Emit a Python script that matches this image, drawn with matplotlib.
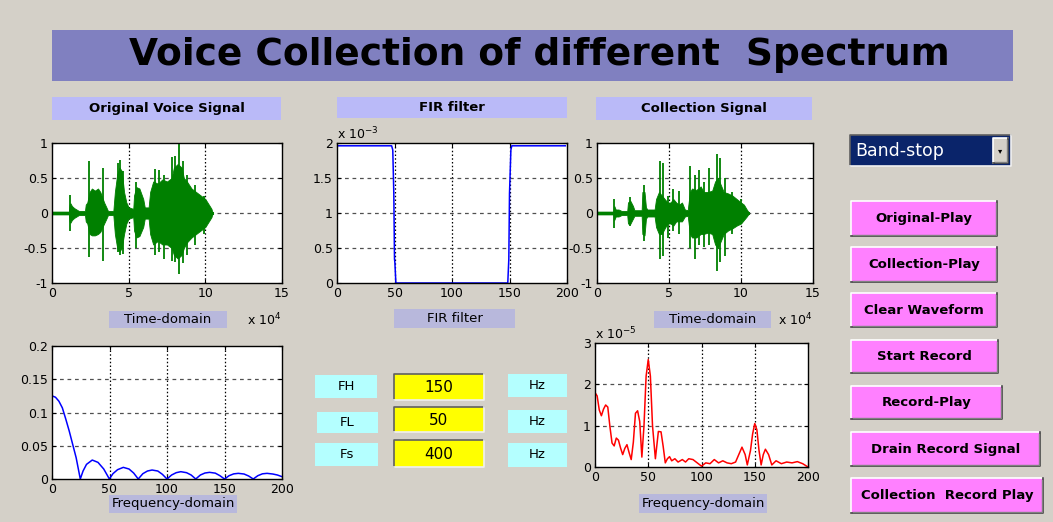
import numpy as np
import matplotlib.pyplot as plt
from matplotlib.patches import Rectangle

W, H = 1053, 522
BG = '#d4d0c8'

# ---- data ----
# time-domain envelopes (x in units of 1e4 samples)
orig_env_x = [0, 1.1, 1.15, 1.2, 1.3, 1.45, 1.6, 1.75, 1.8, 2.15,
              2.2, 2.3, 2.45, 2.6, 2.8, 3.0, 3.15, 3.4, 3.55, 3.65,
              4.0, 4.1, 4.25, 4.4, 4.55, 4.7, 4.85, 5.0, 5.3, 5.35,
              5.5, 5.7, 5.95, 6.05, 6.3, 6.4, 6.6, 6.9, 7.2, 7.5,
              7.8, 7.95, 8.2, 8.45, 8.6, 8.8, 9.1, 9.4, 9.7, 10.0,
              10.2, 10.4, 10.45]
orig_env_top = [0.02, 0.02, 0.12, 0.14, 0.1, 0.07, 0.05, 0.03, 0.03, 0.03,
                0.12, 0.15, 0.3, 0.35, 0.32, 0.35, 0.3, 0.15, 0.08, 0.03,
                0.03, 0.3, 0.55, 0.65, 0.6, 0.3, 0.15, 0.08, 0.06, 0.25,
                0.37, 0.35, 0.2, 0.08, 0.08, 0.3, 0.45, 0.42, 0.48, 0.45,
                0.5, 0.65, 0.7, 0.65, 0.5, 0.45, 0.35, 0.3, 0.25, 0.2,
                0.13, 0.06, 0.02]
orig_env_bot = [-0.02, -0.02, -0.12, -0.14, -0.1, -0.07, -0.05, -0.03, -0.03, -0.03,
                -0.12, -0.15, -0.3, -0.32, -0.32, -0.3, -0.27, -0.15, -0.08, -0.03,
                -0.03, -0.3, -0.5, -0.55, -0.5, -0.3, -0.15, -0.08, -0.06, -0.25,
                -0.35, -0.33, -0.2, -0.08, -0.08, -0.3, -0.45, -0.4, -0.45, -0.45,
                -0.5, -0.6, -0.65, -0.6, -0.5, -0.42, -0.35, -0.3, -0.25, -0.2,
                -0.13, -0.06, -0.02]
orig_spike_x = [1.2, 2.39, 3.3, 4.3, 4.46, 4.6, 5.5, 6.7, 7.0, 7.3, 7.8, 8.05, 8.3, 8.55, 8.8, 9.3, 9.9]
orig_spike_top = [0.26, 0.75, 0.65, 0.72, 0.76, 0.6, 0.45, 0.63, 0.62, 0.55, 0.8, 0.81, 1.0, 0.75, 0.55, 0.4, 0.25]
orig_spike_bot = [-0.25, -0.63, -0.68, -0.55, -0.6, -0.58, -0.5, -0.6, -0.55, -0.65, -0.68, -0.7, -0.87, -0.72, -0.6, -0.45, -0.3]

coll_env_x = [0, 1.15, 1.2, 1.3, 1.5, 1.7, 2.1, 2.15, 2.3, 2.5,
              2.6, 3.1, 3.15, 3.3, 3.4, 3.5, 4.0, 4.1, 4.3, 4.5,
              4.7, 4.9, 5.1, 5.3, 5.5, 5.7, 5.9, 6.1, 6.3, 6.45,
              6.6, 6.9, 7.2, 7.4, 7.7, 8.0, 8.2, 8.4, 8.6, 8.8,
              9.1, 9.4, 9.7, 10.0, 10.2, 10.4, 10.5]
coll_env_top = [0.02, 0.02, 0.1, 0.05, 0.05, 0.03, 0.03, 0.15, 0.18, 0.1,
                0.04, 0.04, 0.3, 0.3, 0.08, 0.05, 0.05, 0.2, 0.3, 0.25,
                0.2, 0.15, 0.15, 0.2, 0.15, 0.12, 0.15, 0.05, 0.04, 0.3,
                0.35, 0.33, 0.38, 0.3, 0.3, 0.32, 0.45, 0.5, 0.4, 0.3,
                0.28, 0.25, 0.2, 0.15, 0.12, 0.05, 0.02]
coll_env_bot = [-0.02, -0.02, -0.1, -0.05, -0.05, -0.03, -0.03, -0.15, -0.16, -0.08,
                -0.04, -0.04, -0.3, -0.32, -0.08, -0.05, -0.05, -0.2, -0.3, -0.3,
                -0.22, -0.15, -0.15, -0.18, -0.12, -0.12, -0.12, -0.05, -0.04, -0.3,
                -0.35, -0.35, -0.3, -0.3, -0.28, -0.3, -0.45, -0.5, -0.4, -0.3,
                -0.25, -0.22, -0.18, -0.15, -0.1, -0.05, -0.02]
coll_spike_x = [1.2, 2.3, 3.25, 4.35, 4.6, 4.95, 5.3, 5.7, 6.45, 6.8, 7.1, 7.4, 7.8, 8.35, 8.55, 8.9, 9.4, 10.0]
coll_spike_top = [0.2, 0.23, 0.4, 0.75, 0.71, 0.25, 0.35, 0.32, 0.67, 0.55, 0.62, 0.45, 0.64, 0.85, 0.78, 0.5, 0.3, 0.2]
coll_spike_bot = [-0.21, -0.18, -0.4, -0.66, -0.61, -0.35, -0.25, -0.3, -0.5, -0.66, -0.45, -0.48, -0.45, -0.83, -0.7, -0.61, -0.3, -0.15]

# FIR filter (x 1e-3)
fir_f = [0, 47.5, 48.5, 49.4, 50.0, 50.3, 51.2, 148.5, 149.4, 150.0, 151.2, 152, 198.5]
fir_h = [1.96, 1.96, 1.9, 1.28, 0.34, 0.3, 0, 0, 0.34, 1.28, 1.9, 1.96, 1.96]

# original spectrum
orig_freq = [0, 3, 6, 9, 12, 15, 18, 21, 24.6,
             27, 30, 35, 40, 45, 49.9,
             53, 57, 62, 67, 71, 75,
             79, 83, 87, 92, 96, 100,
             104, 108, 112, 117, 121, 125,
             129, 133, 137, 142, 146, 150,
             154, 158, 162, 167, 171, 175,
             179, 183, 187, 192, 196, 200]
orig_mag = [0.125, 0.123, 0.117, 0.107, 0.09, 0.072, 0.052, 0.032, 0,
            0.012, 0.022, 0.0285, 0.025, 0.015, 0,
            0.008, 0.014, 0.0175, 0.015, 0.009, 0,
            0.008, 0.012, 0.0135, 0.012, 0.007, 0,
            0.006, 0.0095, 0.011, 0.0095, 0.006, 0,
            0.006, 0.009, 0.010, 0.0088, 0.005, 0,
            0.005, 0.0077, 0.0085, 0.0075, 0.0045, 0,
            0.005, 0.0078, 0.0085, 0.0075, 0.006, 0.0035]

# collected spectrum (x 1e-5)
coll_freq = [0, 2, 4, 6, 8, 10, 12, 14, 16, 18, 20, 22, 24, 26, 28, 30, 32, 34, 36, 38,
             40, 42, 44, 46, 48, 50, 52, 54, 56.7, 59.5, 62, 64, 66, 68, 70, 72, 75, 78,
             82, 85, 88, 92, 95, 100, 104, 108, 112, 116, 120, 124, 128, 132, 135, 138,
             141, 143, 146, 148, 150, 152, 154, 156, 158, 160, 163, 166, 170, 175, 180,
             185, 190, 195, 200]
coll_mag = [1.8, 1.72, 1.38, 1.24, 1.4, 1.5, 1.45, 0.98, 0.58, 0.51, 0.7, 0.65, 0.46, 0.3,
            0.45, 0.54, 0.35, 0.18, 0.6, 1.3, 1.36, 1.1, 0.24, 1.0, 2.2, 2.6, 2.2, 1.0, 0.2,
            0.86, 0.85, 0.5, 0.1, 0.2, 0.25, 0.15, 0.2, 0.12, 0.18, 0.12, 0.2, 0.18, 0.12,
            0.02, 0.1, 0.08, 0.18, 0.1, 0.15, 0.1, 0.08, 0.12, 0.3, 0.48, 0.3, 0.05, 0.4,
            0.8, 1.05, 0.9, 0.4, 0.05, 0.3, 0.43, 0.3, 0.05, 0.15, 0.08, 0.12, 0.1, 0.13,
            0.08, 0.0]

buttons = ['Original-Play', 'Collection-Play', 'Clear Waveform', 'Start Record',
           'Record-Play', 'Drain Record Signal', 'Collection  Record Play']
param_names = ['FH', 'FL', 'Fs']
param_values = ['150', '50', '400']

fig = plt.figure(figsize=(W / 100, H / 100), dpi=100, facecolor=BG)

# overlay in pixel coordinates for the GUI widgets
ov = fig.add_axes([0, 0, 1, 1], zorder=-1)
ov.set_xlim(0, W)
ov.set_ylim(H, 0)
ov.axis('off')

SANS = 'DejaVu Sans'


def box(x0, y0, x1, y1, color, style=None):
    ov.add_patch(Rectangle((x0, y0), x1 - x0, y1 - y0, facecolor=color, edgecolor='none'))
    if style == 'raised':
        ov.plot([x0, x0, x1], [y1, y0, y0], color='white', lw=1.2)
        ov.plot([x0, x1, x1], [y1, y1, y0], color='#404040', lw=1.2)
        ov.plot([x0 + 1.5, x1 - 1.5, x1 - 1.5], [y1 - 1.5, y1 - 1.5, y0 + 1.5], color='#808080', lw=1)
    elif style == 'sunken':
        ov.plot([x0, x0, x1], [y1, y0, y0], color='#606060', lw=1.2)
        ov.plot([x0, x1, x1], [y1, y1, y0], color='#f0f0f0', lw=1.2)


def label(x0, y0, x1, y1, color, text, size=9.5, weight='normal'):
    box(x0, y0, x1, y1, color)
    ov.text((x0 + x1) / 2, (y0 + y1) / 2, text, ha='center', va='center',
            fontsize=size, fontweight=weight, family=SANS)


# title banner
box(52, 30, 1013, 81, '#8080c0')
ov.text(539, 55, 'Voice Collection of different  Spectrum', ha='center', va='center',
        fontsize=27, fontweight='bold', family=SANS)

# panel headers
label(52, 97, 281, 120, '#babaf8', 'Original Voice Signal', weight='bold')
label(337, 97, 567, 118, '#babaf8', 'FIR filter', weight='bold')
label(596, 97, 812, 120, '#babaf8', 'Collection Signal', weight='bold')

# axis captions
label(109, 311, 227, 328, '#b8b8dc', 'Time-domain')
label(394, 309, 515, 328, '#b8b8dc', 'FIR filter')
label(654, 311, 771, 328, '#b8b8dc', 'Time-domain')
label(109, 495, 237, 513, '#b8b8dc', 'Frequency-domain')
label(639, 494, 767, 513, '#b8b8dc', 'Frequency-domain')

# parameter inputs
rows = [(375, 398, 374, 400, 374, 397, 315, 377),
        (412, 433, 407, 432, 410, 433, 317, 378),
        (443, 466, 440, 467, 443, 467, 315, 378)]
for (ly0, ly1, vy0, vy1, hy0, hy1, lx0, lx1), name, val in zip(rows, param_names, param_values):
    label(lx0, ly0, lx1, ly1, '#b4ffff', name)
    box(394, vy0, 484, vy1, '#ffff00', 'sunken')
    ov.text(439, (vy0 + vy1) / 2 + 1, val, ha='center', va='center', fontsize=11, family=SANS)
    label(508, hy0, 567, hy1, '#b4ffff', 'Hz')

# popup menu
box(850, 135, 1011, 166, '#0a246a', 'sunken')
ov.text(855, 151, 'Band-stop', ha='left', va='center', fontsize=12.5, color='white', family=SANS)
box(993, 138, 1008, 163, BG, 'raised')
ov.text(1000.5, 151, '\u25be', ha='center', va='center', fontsize=6, color='black')

# buttons
btn_boxes = [(851, 201, 997, 236), (851, 247, 997, 282), (851, 293, 997, 327),
             (851, 340, 998, 373), (851, 386, 1002, 419), (851, 432, 1040, 466),
             (851, 478, 1043, 513)]
for (x0, y0, x1, y1), name in zip(btn_boxes, buttons):
    box(x0, y0, x1, y1, '#ff80ff', 'raised')
    ov.text((x0 + x1) / 2, (y0 + y1) / 2, name, ha='center', va='center',
            fontsize=9.5, fontweight='bold', family=SANS)


def make_axes(x0, y0, x1, y1):
    ax = fig.add_axes([x0 / W, 1 - y1 / H, (x1 - x0) / W, (y1 - y0) / H])
    ax.set_facecolor('white')
    ax.tick_params(direction='in', length=3, top=True, right=True, labelsize=9,
                   colors='black', pad=3)
    for s in ax.spines.values():
        s.set_color('black')
        s.set_linewidth(1)
    return ax


def grid(ax, xs, ys):
    for x in xs:
        ax.axvline(x, color='black', lw=0.9, ls=(0, (1.2, 1.8)), zorder=0.5)
    for y in ys:
        ax.axhline(y, color='#505050', lw=0.9, ls=(0, (3, 3)), zorder=0.5)


def waveform(ax, ex, et, eb, sx, st, sb):
    ax.plot([0, ex[-1]], [0, 0], color='#008000', lw=2.2, zorder=2)
    ax.fill_between(ex, eb, et, color='#008000', lw=0.6, edgecolor='#008000', zorder=2)
    ax.vlines(sx, sb, st, color='#008000', lw=1.3, zorder=2)


def time_axes(ax):
    ax.set_xlim(0, 15)
    ax.set_ylim(-1, 1)
    ax.set_xticks([0, 5, 10, 15])
    ax.set_yticks([-1, -0.5, 0, 0.5, 1])
    ax.set_yticklabels(['-1', '-0.5', '0', '0.5', '1'])
    grid(ax, [5, 10], [-0.5, 0, 0.5])


ax1 = make_axes(52, 143, 282, 283)
time_axes(ax1)
waveform(ax1, orig_env_x, orig_env_top, orig_env_bot, orig_spike_x, orig_spike_top, orig_spike_bot)

ax2 = make_axes(337, 143, 567, 283)
ax2.plot(fir_f, fir_h, color='#0000ff', lw=1.1, zorder=2)
ax2.set_xlim(0, 200)
ax2.set_ylim(0, 2)
ax2.set_xticks([0, 50, 100, 150, 200])
ax2.set_yticks([0, 0.5, 1, 1.5, 2])
ax2.set_yticklabels(['0', '0.5', '1', '1.5', '2'])
grid(ax2, [50, 100, 150], [0.5, 1, 1.5])

ax3 = make_axes(597, 143, 813, 283)
time_axes(ax3)
waveform(ax3, coll_env_x, coll_env_top, coll_env_bot, coll_spike_x, coll_spike_top, coll_spike_bot)

ax4 = make_axes(52, 346, 282, 479)
ax4.plot(orig_freq, orig_mag, color='#0000ff', lw=1.1, zorder=2)
ax4.set_xlim(0, 200)
ax4.set_ylim(0, 0.2)
ax4.set_xticks([0, 50, 100, 150, 200])
ax4.set_yticks([0, 0.05, 0.1, 0.15, 0.2])
ax4.set_yticklabels(['0', '0.05', '0.1', '0.15', '0.2'])
grid(ax4, [50, 100, 150], [0.05, 0.1, 0.15])

ax5 = make_axes(595, 343, 808, 467)
ax5.plot(coll_freq, coll_mag, color='#ff0000', lw=1.1, zorder=2)
ax5.set_xlim(0, 200)
ax5.set_ylim(0, 3)
ax5.set_xticks([0, 50, 100, 150, 200])
ax5.set_yticks([0, 1, 2, 3])
grid(ax5, [50, 100, 150], [1, 2])

# exponent labels
ov.text(247, 320, r'x 10$^{4}$', ha='left', va='center', fontsize=9)
ov.text(778, 320, r'x 10$^{4}$', ha='left', va='center', fontsize=9)
ov.text(337, 134, r'x 10$^{-3}$', ha='left', va='center', fontsize=9)
ov.text(595, 334, r'x 10$^{-5}$', ha='left', va='center', fontsize=9)

fig.savefig('out.png', dpi=100, facecolor=fig.get_facecolor())
